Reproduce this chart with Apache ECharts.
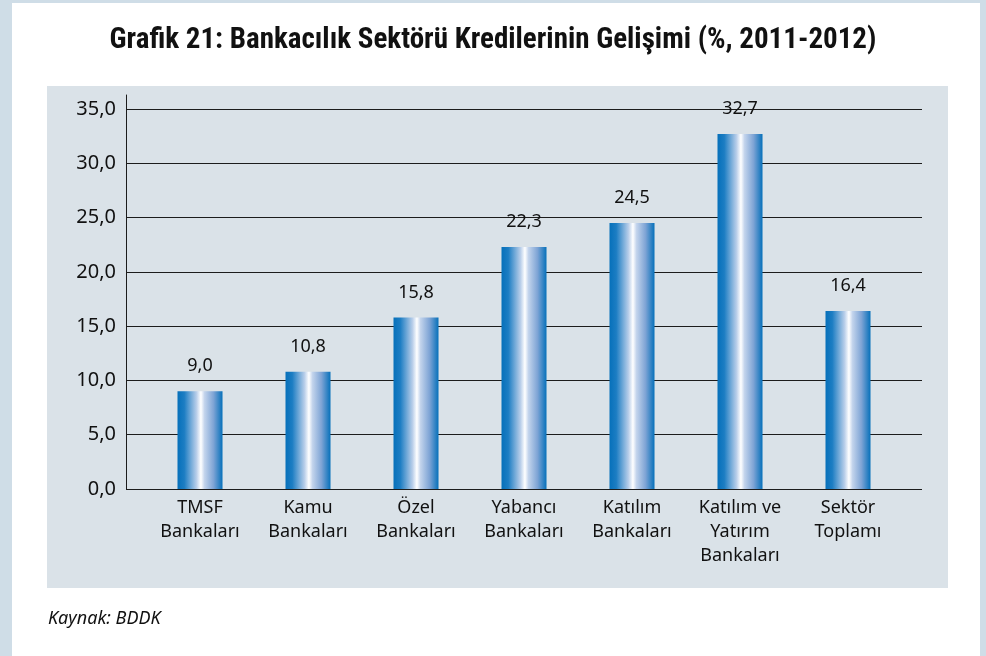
<!DOCTYPE html>
<html>
<head>
<meta charset="utf-8">
<script src="https://cdn.jsdelivr.net/npm/echarts@6/dist/echarts.min.js"></script>
<style>
  html, body { margin: 0; padding: 0; background: #fff; }
  #chart { width: 986px; height: 656px; }
</style>
</head>
<body>
<div id="chart"></div>
<script>
// data
var categories = ['TMSF\nBankaları', 'Kamu\nBankaları', 'Özel\nBankaları', 'Yabancı\nBankaları',
  'Katılım\nBankaları', 'Katılım ve\nYatırım\nBankaları', 'Sektör\nToplamı'];
var values = [9.0, 10.8, 15.8, 22.3, 24.5, 32.7, 16.4];
var yTicks = [0, 5, 10, 15, 20, 25, 30, 35];

var chart = echarts.init(document.getElementById('chart'));

var font = '"Noto Sans", "Open Sans", sans-serif';
var fmt = function (v) { return v.toFixed(1).replace('.', ','); };

var barColor = new echarts.graphic.LinearGradient(0, 0, 1, 0, [
  {offset: 0, color: '#0670ba'},
  {offset: 0.15, color: '#1c7dc3'},
  {offset: 0.42, color: '#b7cde9'},
  {offset: 0.52, color: '#ffffff'},
  {offset: 0.6, color: '#c3d4ec'},
  {offset: 0.8, color: '#7ea4d5'},
  {offset: 1, color: '#0670ba'}
]);

var option = {
  backgroundColor: '#ffffff',
  animation: false,
  title: {
    text: 'Grafik 21: Bankacılık Sektörü Kredilerinin Gelişimi (%, 2011-2012)',
    left: 'center',
    top: 21,
    textStyle: {
      fontFamily: '"Liberation Sans Narrow", "Roboto Condensed", "Liberation Sans", sans-serif',
      fontWeight: 'bold',
      fontSize: 29,
      color: '#111'
    }
  },
  graphic: [
    // light blue page strips
    {type: 'rect', left: 0, top: 0, shape: {width: 12, height: 656}, style: {fill: '#cfdde7'}, z: -10},
    {type: 'rect', left: 980, top: 0, shape: {width: 6, height: 656}, style: {fill: '#cfdde7'}, z: -10},
    {type: 'rect', left: 0, top: 0, shape: {width: 986, height: 3}, style: {fill: '#cfdde7'}, z: -10},
    // chart panel
    {type: 'rect', left: 47, top: 86, shape: {width: 901, height: 502}, style: {fill: '#dae2e8'}, z: -10},
    {
      type: 'text', left: 48, top: 610,
      style: {text: 'Kaynak: BDDK', font: 'italic 18px ' + font, fill: '#111'}
    }
  ],
  grid: [
    {left: 126, right: 64, top: 109, bottom: 167},
    {left: 146, right: 84, top: 109, bottom: 167},
    {left: 126, right: 64, top: 95, bottom: 167}
  ],
  xAxis: [
    {gridIndex: 0, type: 'category', data: [], show: false},
    {
      gridIndex: 1, type: 'category', data: categories,
      axisLine: {show: false}, axisTick: {show: false},
      axisLabel: {
        interval: 0, margin: 7, fontFamily: font, fontSize: 18,
        lineHeight: 24, color: '#111'
      }
    },
    {gridIndex: 2, type: 'category', data: [], show: false}
  ],
  yAxis: [
    {
      gridIndex: 0, type: 'value', min: yTicks[0], max: yTicks[yTicks.length - 1], interval: 5,
      axisLine: {show: false}, axisTick: {show: false},
      splitLine: {show: true, lineStyle: {color: '#1c1c1c', width: 1}},
      axisLabel: {formatter: fmt, fontFamily: font, fontSize: 20, color: '#111', margin: 10}
    },
    {
      gridIndex: 1, type: 'value', min: yTicks[0], max: yTicks[yTicks.length - 1], show: false
    },
    {
      gridIndex: 2, type: 'value', min: 0, max: 1,
      axisLine: {show: true, lineStyle: {color: '#1c1c1c', width: 1}},
      axisTick: {show: false}, axisLabel: {show: false}, splitLine: {show: false}
    }
  ],
  series: [{
    type: 'bar',
    xAxisIndex: 1,
    yAxisIndex: 1,
    data: values,
    barWidth: 45,
    itemStyle: {color: barColor},
    label: {
      show: true,
      position: 'top',
      distance: 16,
      formatter: function (p) { return fmt(p.value); },
      fontFamily: font,
      fontSize: 18,
      color: '#111'
    }
  }]
};

chart.setOption(option);
</script>
</body>
</html>
